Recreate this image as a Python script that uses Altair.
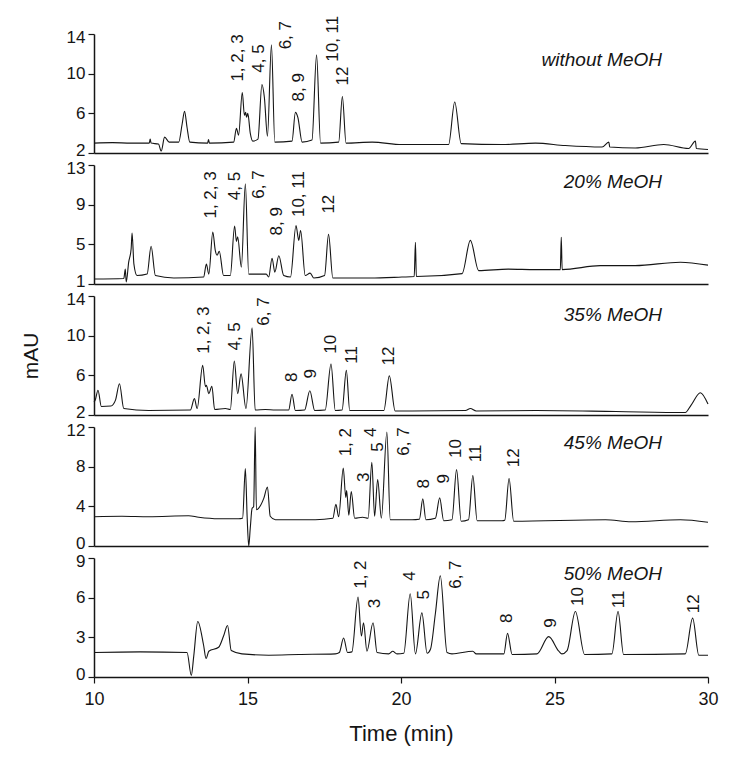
import altair as alt
import pandas as pd

FONT = "Liberation Sans"
INK = "#151515"

# ---------------- Panel 1: without MeOH ----------------
P1_T = [10.00, 10.60, 11.20, 11.80, 11.83, 11.86, 12.10, 12.19, 12.30, 12.45, 12.76, 12.87, 12.95, 13.03, 13.12,
        13.70, 13.73, 13.76, 14.55, 14.64, 14.71, 14.83, 14.90, 14.94, 14.97, 15.01, 15.09, 15.17, 15.34, 15.47,
        15.55, 15.65, 15.78, 15.89, 16.45, 16.56, 16.64, 16.78, 17.10, 17.25, 17.38, 17.97, 18.09, 18.21, 19.06,
        20.03, 21.55, 21.75, 21.96, 23.29, 24.38, 25.35, 26.55, 26.77, 26.80, 27.63, 28.56, 29.37, 29.59, 29.62,
        30.00]
P1_V = [3.0, 3.05, 3.0, 3.0, 3.4, 3.0, 2.9, 2.2, 3.6, 3.1, 3.1, 4.9, 6.2, 4.6, 3.1,
        3.0, 3.35, 3.0, 3.1, 4.5, 3.8, 8.1, 5.8, 6.1, 5.6, 6.0, 4.0, 3.2, 3.4, 8.9,
        7.6, 3.7, 12.9, 3.1, 3.2, 6.1, 5.6, 3.1, 3.3, 11.9, 3.0, 3.1, 7.7, 3.0, 3.1,
        2.85, 2.85, 7.15, 2.95, 2.85, 3.0, 2.75, 2.6, 3.1, 2.6, 2.5, 2.85, 2.45, 3.2, 2.45,
        2.35]
P1_LAB = ["1, 2, 3", "4, 5", "6, 7", "8, 9", "10, 11", "12"]
P1_LT = [14.68, 15.37, 16.25, 16.68, 17.79, 18.11]
P1_LV = [9.2, 10.1, 12.45, 7.2, 11.2, 8.8]

# ---------------- Panel 2: 20% MeOH ----------------
P2_T = [10.00, 10.97, 11.02, 11.05, 11.13, 11.21, 11.24, 11.30, 11.40, 11.73, 11.86, 12.00, 12.60, 13.57, 13.66,
        13.74, 13.87, 13.95, 14.01, 14.08, 14.22, 14.44, 14.58, 14.64, 14.68, 14.80, 14.93, 15.04, 15.61, 15.69,
        15.80, 15.89, 16.02, 16.18, 16.40, 16.58, 16.67, 16.73, 16.88, 17.04, 17.16, 17.51, 17.64, 17.78, 19.00,
        20.03, 20.43, 20.47, 20.50, 21.99, 22.26, 22.53, 23.49, 24.38, 25.19, 25.22, 25.25, 26.49, 27.63, 29.10,
        30.00]
P2_V = [1.5, 1.55, 2.5, 1.2, 3.2, 4.55, 6.15, 3.0, 1.85, 2.0, 4.8, 1.85, 1.6, 1.7, 3.0,
        2.0, 6.25, 4.4, 3.9, 4.3, 1.85, 1.85, 6.85, 5.3, 5.75, 2.7, 11.1, 2.0, 2.0, 1.7,
        3.6, 2.2, 3.85, 1.85, 1.7, 6.9, 5.4, 6.4, 1.85, 2.1, 1.6, 1.85, 6.0, 1.6, 1.6,
        1.7, 1.75, 5.2, 1.75, 2.05, 5.4, 2.35, 2.5, 2.45, 2.45, 5.7, 2.45, 2.85, 2.85, 3.2,
        2.9]
P2_LAB = ["1, 2, 3", "4, 5", "6, 7", "8, 9", "10, 11", "12"]
P2_LT = [13.81, 14.59, 15.39, 15.96, 16.68, 17.67]
P2_LV = [7.6, 9.45, 9.6, 5.9, 7.75, 8.1]

# ---------------- Panel 3: 35% MeOH ----------------
P3_T = [10.00, 10.04, 10.13, 10.24, 10.55, 10.70, 10.83, 10.97, 11.78, 13.14, 13.27, 13.36, 13.54, 13.63, 13.66,
        13.74, 13.84, 13.93, 14.28, 14.44, 14.57, 14.68, 14.79, 14.95, 15.15, 15.25, 15.58, 15.91, 16.34, 16.45,
        16.56, 16.86, 17.03, 17.19, 17.53, 17.72, 17.86, 18.08, 18.22, 18.33, 19.44, 19.62, 19.81, 20.36, 22.10,
        22.26, 22.45, 24.40, 27.00, 29.26, 29.45, 29.75, 30.00]
P3_V = [3.3, 3.5, 4.5, 2.85, 2.9, 3.5, 5.15, 2.65, 2.45, 2.5, 3.65, 2.65, 7.0, 4.85, 5.0,
        4.15, 4.9, 2.55, 2.65, 2.55, 7.45, 4.15, 6.15, 2.65, 10.8, 2.5, 2.55, 2.5, 2.5, 4.1,
        2.45, 2.5, 4.45, 2.45, 2.5, 7.15, 2.45, 2.5, 6.5, 2.45, 2.45, 5.95, 2.4, 2.4, 2.45,
        2.65, 2.4, 2.45, 2.35, 2.25, 3.0, 4.25, 3.1]
P3_LAB = ["1, 2, 3", "4, 5", "6, 7", "8", "9", "10", "11", "12"]
P3_LT = [13.59, 14.59, 15.55, 16.44, 17.07, 17.71, 18.40, 19.62]
P3_LV = [8.17, 8.5, 11.0, 5.33, 5.67, 8.17, 7.17, 7.0]

# ---------------- Panel 4: 45% MeOH ----------------
P4_T = [10.00, 10.91, 11.78, 13.08, 13.41, 14.06, 14.71, 14.84, 14.93, 14.99, 15.04, 15.09, 15.15, 15.20, 15.25,
        15.29, 15.36, 15.53, 15.65, 15.74, 15.91, 17.21, 17.78, 17.88, 17.97, 18.12, 18.20, 18.23, 18.30, 18.38,
        18.49, 18.75, 18.93, 19.05, 19.14, 19.24, 19.36, 19.54, 19.65, 20.36, 20.60, 20.71, 20.81, 21.12, 21.26,
        21.39, 21.66, 21.81, 21.96, 22.20, 22.34, 22.48, 23.29, 23.38, 23.52, 23.67, 26.66, 27.50, 29.10, 30.00]
P4_V = [2.95, 3.0, 2.95, 3.05, 2.9, 2.75, 2.75, 2.8, 7.8, 2.8, 0.0, 1.8, 3.8, 3.95, 12.0,
        3.65, 3.8, 4.8, 5.95, 3.0, 2.65, 2.65, 2.8, 4.2, 2.95, 7.85, 4.9, 5.6, 3.1, 5.5,
        2.8, 2.9, 2.8, 8.45, 3.0, 6.7, 2.8, 11.5, 2.65, 2.65, 2.7, 4.75, 2.65, 2.8, 4.85,
        2.55, 2.65, 7.7, 2.5, 2.65, 7.1, 2.55, 2.55, 2.6, 6.8, 2.5, 2.65, 2.45, 2.65, 2.4]
P4_LAB = ["1, 2", "3", "4", "5", "6, 7", "8", "9", "10", "11", "12"]
P4_LT = [18.21, 18.78, 19.03, 19.24, 20.09, 20.74, 21.40, 21.80, 22.44, 23.68]
P4_LV = [9.04, 6.46, 11.0, 9.5, 9.1, 5.8, 6.3, 8.87, 8.44, 7.95]

# ---------------- Panel 5: 50% MeOH ----------------
P5_T = [10.00, 11.50, 13.03, 13.17, 13.25, 13.38, 13.57, 13.65, 13.74, 14.06, 14.22, 14.35, 14.47, 14.82, 15.69,
        16.67, 17.86, 17.99, 18.13, 18.26, 18.40, 18.60, 18.71, 18.78, 18.89, 19.09, 19.22, 19.60, 19.73, 19.87,
        20.09, 20.30, 20.47, 20.68, 20.85, 20.96, 21.12, 21.28, 21.50, 21.66, 22.34, 22.45, 23.35, 23.47, 23.62,
        24.43, 24.81, 25.14, 25.24, 25.41, 25.68, 25.98, 26.87, 27.07, 27.25, 29.26, 29.50, 29.70, 30.00]
P5_V = [1.85, 1.9, 1.85, 0.12, 1.6, 4.2, 2.4, 1.4, 1.95, 2.25, 3.1, 3.9, 2.0, 1.75, 1.65,
        1.7, 1.75, 1.85, 2.95, 1.85, 1.9, 6.05, 3.1, 4.1, 1.95, 4.1, 1.85, 1.75, 1.95, 1.75,
        1.8, 6.3, 1.75, 4.85, 1.8, 2.1, 4.8, 7.65, 1.85, 1.75, 1.95, 1.75, 1.75, 3.3, 1.7,
        1.75, 3.05, 1.95, 1.75, 2.0, 4.95, 1.7, 1.75, 4.95, 1.7, 1.75, 4.45, 1.65, 1.65]
P5_LAB = ["1, 2", "3", "4", "5", "6, 7", "8", "9", "10", "11", "12"]
P5_LT = [18.71, 19.16, 20.30, 20.74, 21.79, 23.45, 24.87, 25.75, 27.09, 29.53]
P5_LV = [6.67, 5.2, 7.28, 5.86, 6.67, 4.09, 3.73, 5.37, 5.2, 4.83]

# panel condition labels, y domains and tick values
COND = ["without MeOH", "20% MeOH", "35% MeOH", "45% MeOH", "50% MeOH"]
COND_T = [28.5, 28.5, 28.5, 28.5, 28.5]
COND_V = [11.4, 11.3, 12.1, 10.4, 7.8]
Y_DOMAINS = [[2, 14], [1, 13], [2, 14], [0, 12], [0, 9]]
Y_TICKS = [[2, 6, 10, 14], [1, 5, 9, 13], [2, 6, 10, 14], [0, 4, 8, 12], [0, 3, 6, 9]]
X_TICKS = [10, 15, 20, 25, 30]

TRACES = [(P1_T, P1_V), (P2_T, P2_V), (P3_T, P3_V), (P4_T, P4_V), (P5_T, P5_V)]
LABELS = [(P1_LAB, P1_LT, P1_LV), (P2_LAB, P2_LT, P2_LV), (P3_LAB, P3_LT, P3_LV),
          (P4_LAB, P4_LT, P4_LV), (P5_LAB, P5_LT, P5_LV)]


def make_panel(i):
    t, v = TRACES[i]
    lab, lt, lv = LABELS[i]
    trace = pd.DataFrame({"t": t, "v": v})
    peaks = pd.DataFrame({"t": lt, "v": lv, "txt": lab})
    cond = pd.DataFrame({"t": [COND_T[i]], "v": [COND_V[i]], "txt": [COND[i]]})

    last = i == 4
    if last:
        xaxis = alt.Axis(values=X_TICKS, title="Time (min)", format="d", labelFlush=False,
                         tickSize=6, labelPadding=7, titlePadding=15, labelFontSize=18,
                         titleFontSize=22, titleFontWeight="normal")
    else:
        xaxis = alt.Axis(labels=False, ticks=False, title=None)

    lo, hi = Y_DOMAINS[i]
    # nudge the end labels apart slightly, as in the figure
    offset = {"expr": f"datum.value == {lo} ? -3 : (datum.value == {hi} ? 3 : 0)"}
    if i == 2:
        yaxis = alt.Axis(values=Y_TICKS[i], title="mAU", titleFontSize=21, titleFontWeight="normal",
                         titlePadding=25, labelOffset=offset)
    else:
        yaxis = alt.Axis(values=Y_TICKS[i], title=None, labelOffset=offset)

    X = alt.X("t:Q", scale=alt.Scale(domain=[10, 30], nice=False, zero=False), axis=xaxis)
    Y = alt.Y("v:Q", scale=alt.Scale(domain=Y_DOMAINS[i], nice=False, zero=False), axis=yaxis)

    line = alt.Chart(trace).mark_line(color=INK, strokeWidth=1.1, interpolate="monotone").encode(x=X, y=Y)
    txt = alt.Chart(peaks).mark_text(angle=270, align="left", baseline="middle", fontSize=17,
                                     font=FONT, color=INK).encode(x=X, y=Y, text="txt:N")
    note = alt.Chart(cond).mark_text(align="right", baseline="middle", fontSize=19, fontStyle="italic",
                                     font=FONT, color=INK).encode(x=X, y=Y, text="txt:N")
    return alt.layer(line, txt, note).properties(width=614, height=119)


chart = alt.vconcat(*[make_panel(i) for i in range(5)], spacing=12, bounds="flush").properties(
    padding={"left": 12, "top": 7, "right": 5, "bottom": 5}
).configure_view(stroke=None).configure_axis(
    grid=False, labelFont=FONT, titleFont=FONT, labelFontSize=17, labelColor=INK, titleColor=INK,
    domainColor=INK, tickColor=INK, domainWidth=1.5, tickWidth=1.2, tickSize=6, labelPadding=3
)

chart.save("out.html", embed_options={"renderer": "svg", "actions": False})
